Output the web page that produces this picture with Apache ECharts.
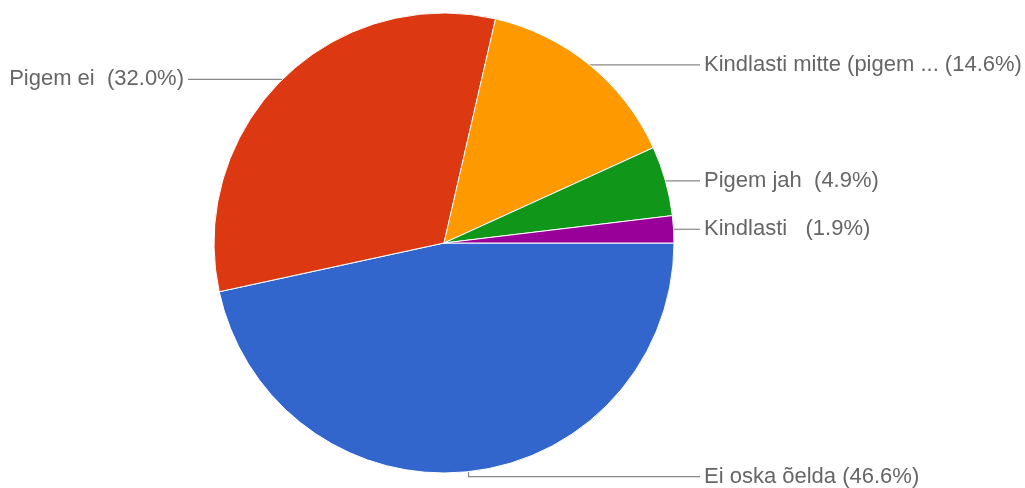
<!DOCTYPE html>
<html>
<head>
<meta charset="utf-8">
<script src="https://cdn.jsdelivr.net/npm/echarts@6/dist/echarts.min.js"></script>
<style>
  html, body { margin: 0; padding: 0; background: #fff; }
  #chart { width: 1025px; height: 488px; }
</style>
</head>
<body>
<div id="chart"></div>
<script>
// Survey answers, in drawing order (clockwise from 3 o'clock)
const categories = ['Ei oska õelda', 'Pigem ei ', 'Kindlasti mitte (pigem ...', 'Pigem jah ', 'Kindlasti  '];
const shares = [46.6, 32.0, 14.6, 4.9, 1.9];
const colors = ['#3366cc', '#dc3912', '#ff9900', '#109618', '#990099'];

const CX = 444, CY = 243, R = 230;
const RIGHT_COL = 700, LEFT_COL = 188;

const chart = echarts.init(document.getElementById('chart'));

chart.setOption({
  animation: false,
  series: [{
    type: 'pie',
    center: [CX, CY],
    radius: [0, R],
    startAngle: 0,
    clockwise: true,
    avoidLabelOverlap: false,
    data: categories.map((name, i) => ({
      name,
      value: shares[i],
      itemStyle: { color: colors[i] }
    })),
    itemStyle: { borderColor: '#fff', borderWidth: 1 },
    label: {
      show: true,
      position: 'outside',
      formatter: p => `${p.name} (${p.value.toFixed(1)}%)`,
      fontFamily: 'Liberation Sans, Arial, sans-serif',
      fontSize: 22,
      color: '#666'
    },
    labelLine: {
      show: true,
      length: 10,
      length2: 10,
      smooth: false,
      lineStyle: { color: '#888', width: 1.2 }
    },
    labelLayout: function (params) {
      const start = params.labelLinePoints[0];
      const right = start[0] >= CX;
      // labels near the bottom of the pie drop a little before turning sideways
      const drop = start[1] > CY + R * 0.9 ? 5 : 0;
      const y = start[1] + drop;
      const endX = right ? RIGHT_COL : LEFT_COL;
      return {
        x: right ? endX + 4 : endX - 4,
        y: y,
        align: right ? 'left' : 'right',
        verticalAlign: 'middle',
        labelLinePoints: [start, [start[0], y], [endX, y]]
      };
    },
    emphasis: { disabled: true }
  }]
});
</script>
</body>
</html>
